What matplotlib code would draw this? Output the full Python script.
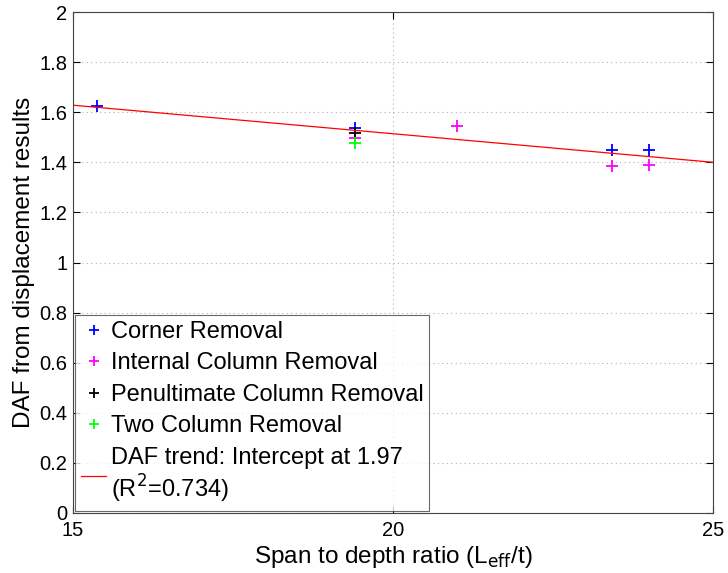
import matplotlib
matplotlib.use("Agg")
import matplotlib.pyplot as plt
import numpy as np

plt.rcParams['font.family'] = ['Liberation Sans', 'DejaVu Sans']

corner_x = [15.37, 19.4, 23.42, 24.0]
corner_y = [1.625, 1.535, 1.450, 1.450]
internal_x = [19.4, 21.0, 23.42, 24.0]
internal_y = [1.497, 1.543, 1.387, 1.390]
penult_x = [19.4]
penult_y = [1.515]
two_x = [19.4]
two_y = [1.478]
trend_intercept = 1.97
trend_slope = -0.0228
trend_x = [15, 25]

xticks = [15, 20, 25]
yticks = [0, 0.2, 0.4, 0.6, 0.8, 1, 1.2, 1.4, 1.6, 1.8, 2]
ytick_labels = ['0', '0.2', '0.4', '0.6', '0.8', '1', '1.2', '1.4', '1.6', '1.8', '2']

fig = plt.figure(figsize=(7.28, 5.73), dpi=100)
ax = fig.add_axes([73/728, 1-513/573, 640/728, 501/573])

ms = 9
mew = 1.3
ax.plot(corner_x, corner_y, '+', color='#0000ff', ms=ms, mew=mew, label='Corner Removal')
ax.plot(internal_x, internal_y, '+', color='#ff00ff', ms=ms, mew=mew, label='Internal Column Removal')
ax.plot(penult_x, penult_y, '+', color='#000000', ms=ms, mew=mew, label='Penultimate Column Removal')
ax.plot(two_x, two_y, '+', color='#00ff00', ms=ms, mew=mew, label='Two Column Removal')
tx = np.array(trend_x, dtype=float)
ax.plot(tx, trend_intercept + trend_slope * tx, '-', color='#ff0000', lw=0.9,
        label='DAF trend: Intercept at 1.97\n(R$^2$=0.734)')

ax.set_xlim(15, 25)
ax.set_ylim(0, 2)
ax.set_xticks(xticks)
ax.set_yticks(yticks)
ax.set_yticklabels(ytick_labels)
ax.tick_params(direction='in', length=5, labelsize=14.5, width=0.8, top=True, right=True,
               labeltop=False, labelright=False)
ax.tick_params(axis='x', pad=6)
ax.tick_params(axis='y', pad=4)
ax.grid(True, linestyle=(0, (1, 3)), color='#b0b0b0', lw=0.8)
for s in ax.spines.values():
    s.set_color('#444444')
    s.set_linewidth(0.8)
ax.set_xlabel('Span to depth ratio (L$_{\\mathrm{eff}}$/t)', fontsize=17.5, labelpad=3)
ax.set_ylabel('DAF from displacement results', fontsize=17.5, labelpad=3)

leg = ax.legend(loc='lower left', fontsize=17, frameon=True, fancybox=False,
                edgecolor='#444444', borderaxespad=0.1, handlelength=1.05,
                handletextpad=0.2, labelspacing=0.4, borderpad=0.25, markerscale=0.8)
leg.get_frame().set_linewidth(0.8)
leg.get_texts()[-1].set_linespacing(1.15)

fig.savefig('out.png', dpi=100)
